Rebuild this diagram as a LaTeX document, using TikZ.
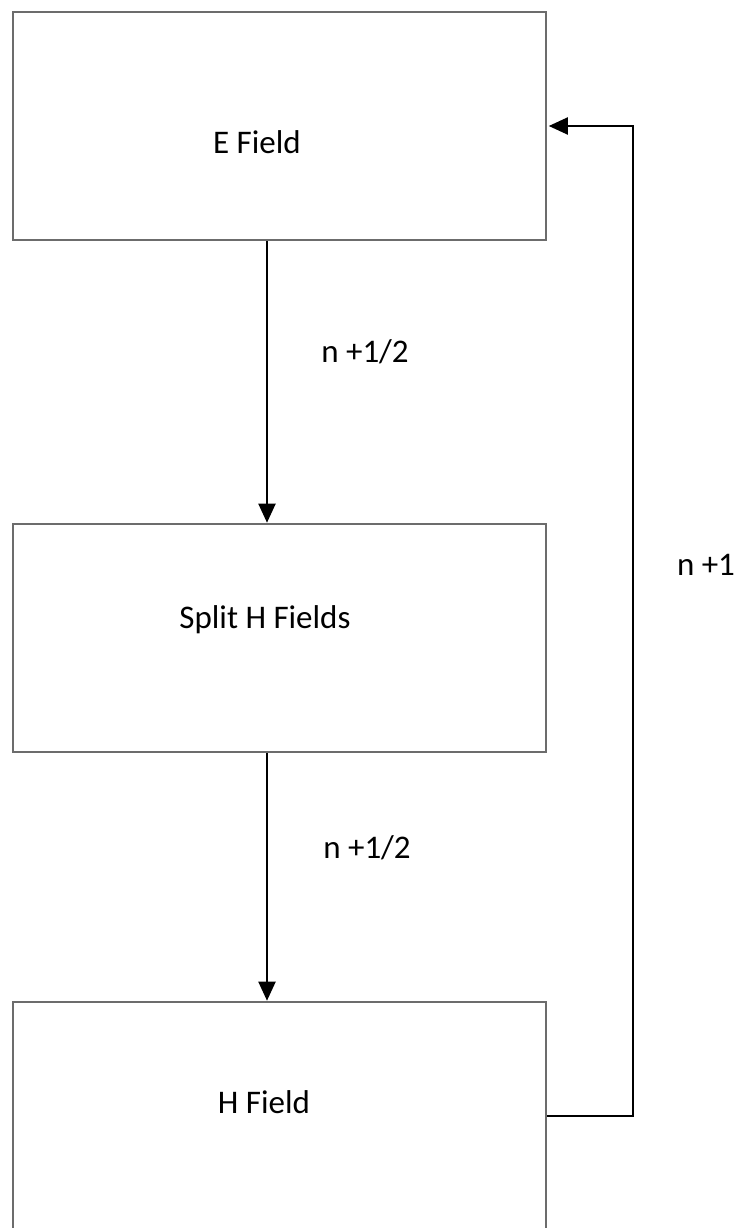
\documentclass[tikz,border=0pt]{standalone}
\usepackage{fontspec}
\setmainfont{Carlito}
\usetikzlibrary{arrows.meta}
\begin{document}
\begin{tikzpicture}[x=1pt,y=-1pt,
  fieldbox/.style={draw=gray!85!black,line width=2.6pt,minimum width=533pt,minimum height=228pt,inner sep=0pt},
  flow/.style={line width=2pt,draw=black,-{Triangle[length=19pt,width=17pt]}},
  lbl/.style={font=\fontsize{33}{40}\selectfont,inner sep=0pt}]
\clip (0,0) rectangle (735,1228);
\fill[white] (0,0) rectangle (735,1228);
\node[fieldbox] (e) at (279.5,126) {};
\node[fieldbox] (s) at (279.5,638) {};
\node[fieldbox] (h) at (279.5,1116) {};
\node[lbl] (et) at (257,142) {E Field};
\node[lbl] (st) at (265,620) {Split H Fields};
\node[lbl] (ht) at (264,1102) {H Field};
\coordinate (ax) at (267,0);
\draw[flow] (e.south -| ax) -- (s.north -| ax);
\draw[flow] (s.south -| ax) -- (h.north -| ax);
\coordinate (lp) at (633,0);
\draw[flow] (h.east) -- (h.east -| lp) -- (e.east -| lp) -- ([xshift=1.5pt]e.east);
\node[lbl] (l1) at (365,352) {n +1/2};
\node[lbl] (l2) at (367,848) {n +1/2};
\node[lbl] (l3) at (706,565) {n +1};
\end{tikzpicture}
\end{document}
